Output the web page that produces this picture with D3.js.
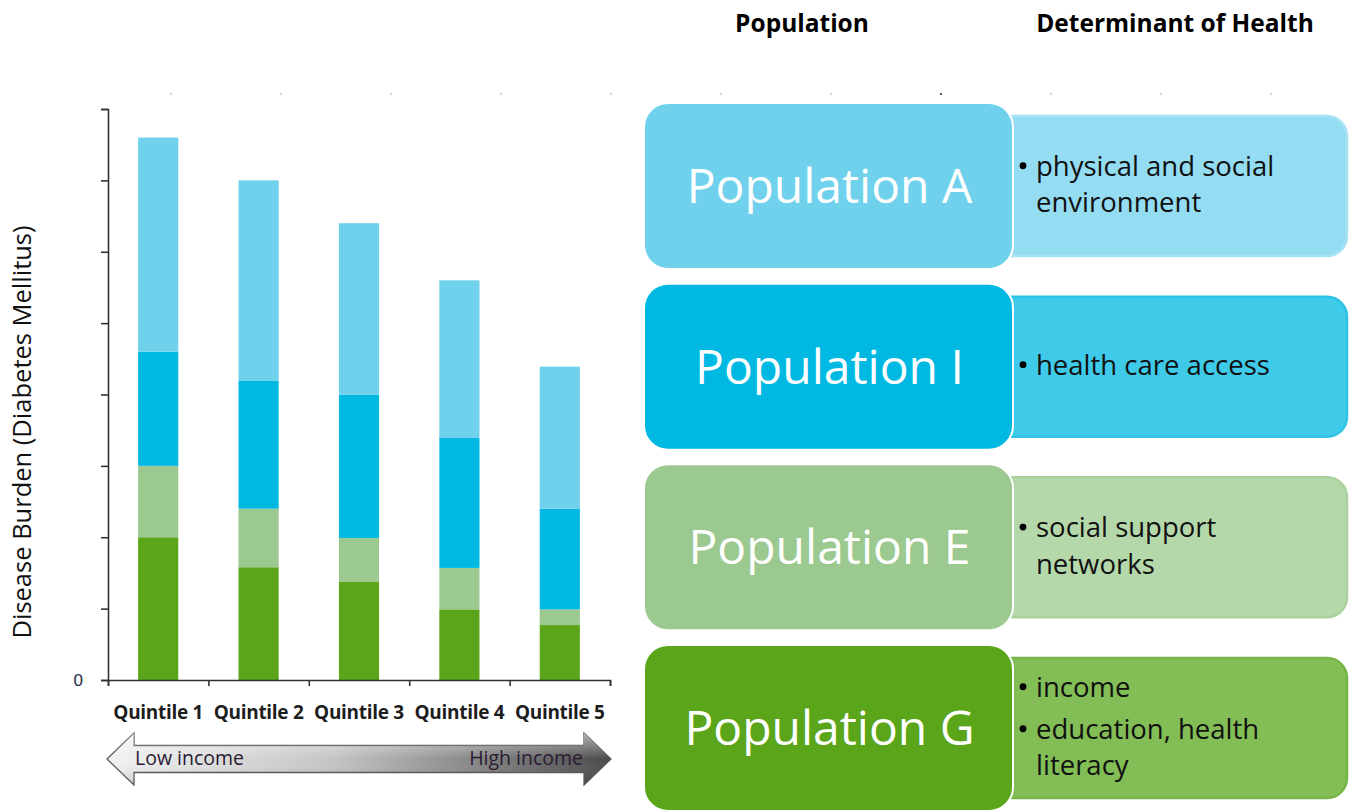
<!DOCTYPE html>
<html>
<head>
<meta charset="utf-8">
<script src="https://cdn.jsdelivr.net/npm/d3@7"></script>
<style>
  body { margin: 0; background: #fff; }
  svg { display: block; font-family: "Open Sans", sans-serif; }
</style>
</head>
<body>
<svg id="chart" width="1352" height="811"></svg>
<script>
// stacked bar values, bottom segment first
const quintiles = ["Quintile 1", "Quintile 2", "Quintile 3", "Quintile 4", "Quintile 5"];
const popG = [2.0, 1.58, 1.38, 0.99, 0.77];
const popE = [1.0, 0.82, 0.61, 0.58, 0.22];
const popI = [1.6, 1.79, 2.01, 1.82, 1.41];
const popA = [3.0, 2.81, 2.4, 2.21, 1.99];
const stackKeys = ["G", "E", "I", "A"];
const stackColors = ["#5aa51a", "#9cc98f", "#00b9e3", "#6fd1ec"];
const yTicks = [0, 1, 2, 3, 4, 5, 6, 7, 8];

// right hand panel
const panelNames = ["Population A", "Population I", "Population E", "Population G"];
const panelColors = ["#6fd1ec", "#00b9e3", "#9cc98f", "#5aa51a"];
const detailColors = ["#94dcf1", "#3fcaea", "#b5d8aa", "#82bd56"];
const detailStroke = ["#a8e3f4", "#2fc2e6", "#a9d19c", "#75b447"];
const panelBullets = [
  [["physical and social", "environment"]],
  [["health care access"]],
  [["social support", "networks"]],
  [["income"], ["education, health", "literacy"]]
];

const svg = d3.select("#chart");

const tableData = quintiles.map((q, i) => ({ q: q, G: popG[i], E: popE[i], I: popI[i], A: popA[i] }));
const series = d3.stack().keys(stackKeys)(tableData);

const x = d3.scaleBand().domain(quintiles).range([108, 610]).paddingInner(0.6).paddingOuter(0.3);
const xTick = d3.scaleLinear().domain([0, quintiles.length]).range([108, 610]);
const y = d3.scaleLinear().domain([0, 8]).range([680, 109]);

// faint dotted guide along the top
svg.append("g").selectAll("rect")
  .data(d3.range(170, 1300, 110))
  .join("rect")
  .attr("x", d => d).attr("y", 93)
  .attr("width", 2).attr("height", 2)
  .attr("fill", (d, i) => i === 7 ? "#555" : "#d4d4d4");

// bars
svg.append("g").selectAll("g")
  .data(series)
  .join("g")
  .attr("fill", (d, i) => stackColors[i])
  .selectAll("rect")
  .data(d => d)
  .join("rect")
  .attr("x", d => x(d.data.q))
  .attr("width", x.bandwidth())
  .attr("y", d => y(d[1]))
  .attr("height", d => y(d[0]) - y(d[1]));

// axes
const yAxis = svg.append("g")
  .attr("transform", "translate(108,0)")
  .call(d3.axisLeft(y).tickValues(yTicks).tickSize(7).tickPadding(18)
    .tickFormat(d => d === 0 ? "0" : ""));
yAxis.selectAll("line, path").attr("stroke", "#333").attr("stroke-width", 1.6);
yAxis.selectAll("text").attr("font-size", 17).attr("fill", "#1f2a44");

const xAxis = svg.append("g")
  .attr("transform", "translate(0,680)")
  .call(d3.axisBottom(xTick).ticks(quintiles.length).tickSize(6).tickSizeOuter(6).tickFormat(""));
xAxis.selectAll("line, path").attr("stroke", "#333").attr("stroke-width", 1.6);

svg.append("g").selectAll("text")
  .data(quintiles)
  .join("text")
  .attr("x", d => x(d) + x.bandwidth() / 2)
  .attr("y", 719)
  .attr("text-anchor", "middle")
  .attr("font-weight", "bold")
  .attr("font-size", 19)
  .attr("letter-spacing", -0.3)
  .attr("fill", "#1d1d1d")
  .text(d => d);

svg.append("text")
  .attr("transform", "translate(31,432) rotate(-90)")
  .attr("text-anchor", "middle")
  .attr("font-size", 25.5)
  .attr("fill", "#111")
  .text("Disease Burden (Diabetes Mellitus)");

// income arrow
const defs = svg.append("defs");
const grad = defs.append("linearGradient").attr("id", "arrowGrad")
  .attr("x1", "0").attr("x2", "1").attr("y1", "0").attr("y2", "0");
grad.append("stop").attr("offset", "0").attr("stop-color", "#f2f2f2");
grad.append("stop").attr("offset", "0.45").attr("stop-color", "#c4c4c4");
grad.append("stop").attr("offset", "1").attr("stop-color", "#4a4a4a");
const shine = defs.append("linearGradient").attr("id", "arrowShine")
  .attr("x1", "0").attr("x2", "0").attr("y1", "0").attr("y2", "1");
shine.append("stop").attr("offset", "0").attr("stop-color", "#fff").attr("stop-opacity", 0.55);
shine.append("stop").attr("offset", "0.5").attr("stop-color", "#fff").attr("stop-opacity", 0);
shine.append("stop").attr("offset", "1").attr("stop-color", "#000").attr("stop-opacity", 0.15);

const ax0 = xTick.range()[0] - 1, ax1 = xTick.range()[1] + 1;
const aMid = 759, headH = 26, shaftH = 13.5, headW = 27;
const arrowPts = [
  [ax0, aMid], [ax0 + headW, aMid - headH], [ax0 + headW, aMid - shaftH],
  [ax1 - headW, aMid - shaftH], [ax1 - headW, aMid - headH], [ax1, aMid],
  [ax1 - headW, aMid + headH], [ax1 - headW, aMid + shaftH],
  [ax0 + headW, aMid + shaftH], [ax0 + headW, aMid + headH]
];
const arrowPath = d3.line()(arrowPts) + "Z";
svg.append("path").attr("d", arrowPath).attr("fill", "url(#arrowGrad)")
  .attr("stroke", "#5a5a5a").attr("stroke-width", 1.3);
svg.append("path").attr("d", arrowPath).attr("fill", "url(#arrowShine)");
svg.append("text").attr("x", ax0 + headW + 1).attr("y", 765)
  .attr("font-size", 19.5).attr("fill", "#2a1a33").text("Low income");
svg.append("text").attr("x", ax1 - headW - 1).attr("y", 765)
  .attr("text-anchor", "end")
  .attr("font-size", 19.5).attr("fill", "#2a1a33").text("High income");

// column headers
svg.append("text").attr("x", 802).attr("y", 32).attr("text-anchor", "middle")
  .attr("font-weight", "bold").attr("font-size", 24.5).text("Population");
svg.append("text").attr("x", 1175).attr("y", 32).attr("text-anchor", "middle")
  .attr("font-weight", "bold").attr("font-size", 24.5).text("Determinant of Health");

// population boxes
const rowY = d3.scaleBand().domain(panelNames).range([103, 811]).paddingInner(0.0813).paddingOuter(0);
const rowH = rowY.bandwidth();
const leftX0 = 644, leftX1 = 1013, rightX1 = 1347, inset = 13;

const rows = svg.append("g").selectAll("g")
  .data(panelNames)
  .join("g")
  .attr("transform", d => `translate(0,${rowY(d)})`);

rows.append("rect")
  .attr("x", leftX0 + 300).attr("y", inset)
  .attr("width", rightX1 - leftX0 - 300).attr("height", rowH - 2 * inset)
  .attr("rx", 20)
  .attr("fill", (d, i) => detailColors[i])
  .attr("stroke", (d, i) => detailStroke[i])
  .attr("stroke-width", 2.5);

rows.append("rect")
  .attr("x", leftX0).attr("y", 0)
  .attr("width", leftX1 - leftX0).attr("height", rowH)
  .attr("rx", 24)
  .attr("fill", (d, i) => panelColors[i])
  .attr("stroke", "#fff").attr("stroke-width", 2);

rows.append("text")
  .attr("x", (leftX0 + leftX1) / 2 + 1)
  .attr("y", rowH / 2 + 17)
  .attr("text-anchor", "middle")
  .attr("font-size", 48)
  .attr("fill", "#fff")
  .text(d => d);

const lineGap = 36.5, bulletGap = 42;
rows.each(function (d, i) {
  const g = d3.select(this);
  const lines = [];
  panelBullets[i].forEach((b, bi) => {
    b.forEach((t, li) => lines.push({ t: t, bullet: li === 0, newBullet: bi > 0 && li === 0 }));
  });
  let total = 0;
  const ys = lines.map((l, k) => {
    if (k > 0) total += l.newBullet ? bulletGap : lineGap;
    return total;
  });
  const startY = rowH / 2 - total / 2 + 8;
  lines.forEach((l, k) => {
    if (l.bullet) {
      g.append("circle").attr("cx", leftX1 + 10).attr("cy", startY + ys[k] - 10)
        .attr("r", 3.4).attr("fill", "#000");
    }
    g.append("text").attr("x", leftX1 + 23).attr("y", startY + ys[k])
      .attr("font-size", 27.5).attr("fill", "#111")
      .text(l.t);
  });
});
</script>
</body>
</html>
